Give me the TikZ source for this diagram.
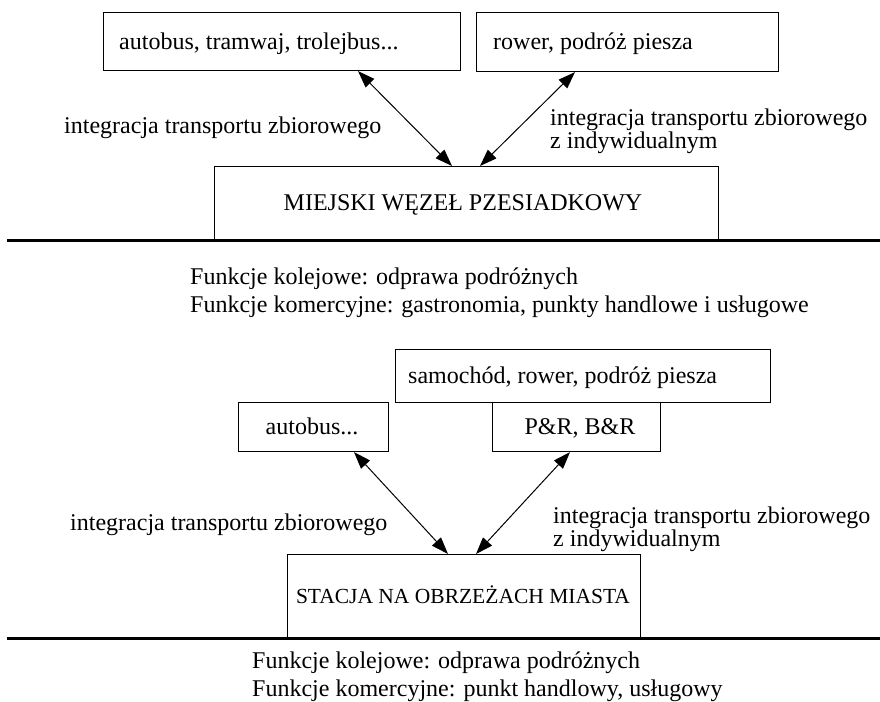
\documentclass[tikz,border=0pt]{standalone}
\usepackage{fontspec}
\setmainfont{Liberation Serif}
\usetikzlibrary{arrows.meta,calc}
\begin{document}
\begin{tikzpicture}[x=1pt,y=-1pt,
  box/.style={draw,line width=1.1pt,inner sep=0pt,anchor=north west},
  txt/.style={inner sep=0pt,font=\fontsize{24}{24}\selectfont},
  lbl/.style={inner sep=0pt,anchor=base west,align=left,font=\fontsize{24}{23}\selectfont},
  fun/.style={inner sep=0pt,anchor=base west,align=left,font=\fontsize{24}{28.5}\selectfont},
  dbl/.style={line width=1pt,{Triangle[length=17pt,width=12pt]}-{Triangle[length=17pt,width=12pt]}},
  base/.style={line width=3pt}]
\useasboundingbox (0,0) rectangle (880,701);
% top
\node[box,minimum width=357pt,minimum height=58pt] (b1) at (103,12) {};
\node[txt,anchor=base west] (t1) at (119,49) {autobus, tramwaj, trolejbus...};
\node[box,minimum width=302pt,minimum height=59pt] (b2) at (476,12) {};
\node[txt,anchor=base west] (t2) at (493,49) {rower, podróż piesza};
\node[box,minimum width=504pt,minimum height=74pt] (m) at (214,166) {};
\node[txt,anchor=base] (mt) at (463,210) {MIEJSKI WĘZEŁ PZESIADKOWY};
\draw[dbl] ([xshift=255pt]b1.south west) -- ([xshift=238pt]m.north west);
\draw[dbl] ([xshift=99pt]b2.south west) -- ([xshift=266pt]m.north west);
\node[lbl] (l1) at (64,133) {integracja transportu zbiorowego};
\node[lbl] (l2) at (550,148) {integracja transportu zbiorowego\\z indywidualnym};
\coordinate (h1a) at (7,240);
\coordinate (h1b) at (880,240);
\draw[base] (h1a) -- (h1b);
\node[fun] (f1) at (190,312.5) {Funkcje kolejowe: odprawa podróżnych\\Funkcje komercyjne: gastronomia, punkty handlowe i usługowe};
% bottom
\node[box,minimum width=375pt,minimum height=53pt] (s) at (395,349) {};
\node[txt,anchor=base west] (st) at (408,383) {samochód, rower, podróż piesza};
\node[box,minimum width=150pt,minimum height=49pt] (a) at (238,402) {};
\node[txt,anchor=base] (at) at (312,434) {autobus...};
\node[box,minimum width=168pt,minimum height=49pt,fill=white] (p) at (492,402) {};
\node[txt,anchor=base] (pt) at (580,434) {P\&R, B\&R};
\node[box,minimum width=353pt,minimum height=84pt] (st2) at (287,554) {};
\node[txt,anchor=base,font=\fontsize{21.5}{21.5}\selectfont] (stt) at (463,603) {STACJA NA OBRZEŻACH MIASTA};
\draw[dbl] ([xshift=116pt]a.south west) -- ([xshift=161pt]st2.north west);
\draw[dbl] ([xshift=78pt]p.south west) -- ([xshift=189pt]st2.north west);
\node[lbl] (l3) at (70,530) {integracja transportu zbiorowego};
\node[lbl] (l4) at (553,546) {integracja transportu zbiorowego\\z indywidualnym};
\coordinate (h2a) at (7,638);
\coordinate (h2b) at (880,638);
\draw[base] (h2a) -- (h2b);
\node[fun] (f2) at (252,696.5) {Funkcje kolejowe: odprawa podróżnych\\Funkcje komercyjne: punkt handlowy, usługowy};
\end{tikzpicture}
\end{document}
